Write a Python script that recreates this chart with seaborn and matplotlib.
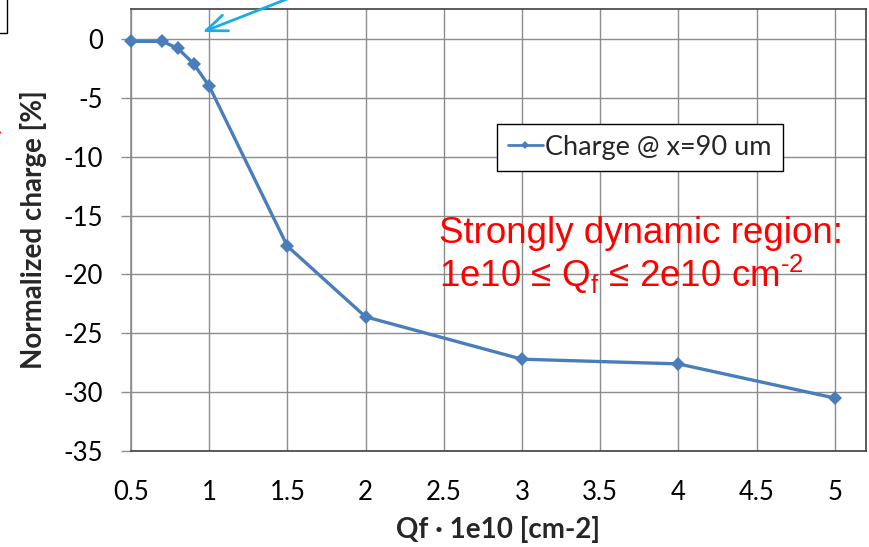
import matplotlib
matplotlib.use("Agg")
import matplotlib.pyplot as plt
import seaborn as sns
import pandas as pd
from matplotlib.patches import FancyArrowPatch, Rectangle
from matplotlib.lines import Line2D

# ---- data ----
qf = [0.5, 0.7, 0.8, 0.9, 1.0, 1.5, 2.0, 3.0, 4.0, 5.0]
charge = [-0.2, -0.2, -0.8, -2.1, -4.0, -17.6, -23.6, -27.2, -27.6, -30.5]
series_name = "Charge @ x=90 um"
x_ticks = [0.5, 1, 1.5, 2, 2.5, 3, 3.5, 4, 4.5, 5]
x_tick_labels = ["0.5", "1", "1.5", "2", "2.5", "3", "3.5", "4", "4.5", "5"]
y_ticks = [0, -5, -10, -15, -20, -25, -30, -35]
x_label = "Qf · 1e10 [cm-2]"
y_label = "Normalized charge [%]"
note_line1 = "Strongly dynamic region:"
note_line2 = r"1e10 ≤ Q$_\mathregular{f}$ ≤ 2e10 cm$^\text{-2}$"

df = pd.DataFrame({"qf": qf, "charge": charge, "series": series_name})

sns.set_theme(style="white")
plt.rcParams["font.family"] = ["Lato", "DejaVu Sans"]
plt.rcParams["axes.unicode_minus"] = False
plt.rcParams["mathtext.fontset"] = "custom"
plt.rcParams["mathtext.rm"] = "Liberation Sans"

W, H = 869, 547
fig = plt.figure(figsize=(W / 100, H / 100), dpi=100)
fig.patch.set_facecolor("white")
ax = fig.add_axes([131 / W, 1 - 451 / H, (866 - 131) / W, (451 - 9) / H])
ax.set_facecolor("white")

line_color = "#4A7EBB"
sns.lineplot(data=df, x="qf", y="charge", hue="series", palette=[line_color],
             marker="D", markersize=7, markeredgewidth=0, linewidth=2.4,
             ax=ax, legend=False, zorder=3, clip_on=False)

ax.set_xlim(0.5, 5.2)
ax.set_ylim(-35, 2.55)
ax.set_xticks(x_ticks)
ax.set_xticklabels(x_tick_labels)
ax.set_yticks(y_ticks)
ax.grid(True, color="#8c8c8c", linewidth=1.0)
ax.tick_params(axis="x", length=0, pad=21, labelsize=18.5, colors="black")
ax.tick_params(axis="y", length=7, width=1, color="#8c8c8c", pad=13,
               labelsize=18.5, left=True, labelcolor="black")
for s in ["top", "right", "bottom"]:
    ax.spines[s].set_color("#404040")
    ax.spines[s].set_linewidth(1.2)
ax.spines["left"].set_color("#8c8c8c")
ax.spines["left"].set_linewidth(1.2)

ax.set_xlabel(x_label, fontsize=20, fontweight="bold", labelpad=8)
ax.set_ylabel(y_label, fontsize=20, fontweight="bold", labelpad=12)

handle = Line2D([], [], color=line_color, marker="D", markersize=4.5,
                linewidth=2.0, markeredgewidth=0)
leg = ax.legend([handle], [series_name], loc="upper left",
                bbox_to_anchor=((497 - 131) / 735, (451 - 124) / 442),
                fontsize=19.5, frameon=True, fancybox=False, handlelength=1.3,
                handletextpad=0.08, borderpad=0.4, borderaxespad=0)
leg.get_frame().set_edgecolor("black")
leg.get_frame().set_linewidth(1.0)
leg.get_frame().set_alpha(1)

red_kw = dict(color="#FF0000", fontsize=26.5, family=["Liberation Sans", "DejaVu Sans"],
              ha="left", va="baseline")
fig.text(439 / W, 1 - 243 / H, note_line1, **red_kw)
fig.text(439 / W, 1 - 287 / H, note_line2, **red_kw)

# ---- cropped slide annotations ----
def fp(x, y):
    return (x / W, 1 - y / H)

arrow = FancyArrowPatch(fp(305, -8), fp(200, 33), transform=fig.transFigure,
                        arrowstyle="->,head_length=15,head_width=6",
                        color="#1AACE8", linewidth=2, mutation_scale=1)
fig.add_artist(arrow)
fig.add_artist(Rectangle(fp(-20, 33), 26.5 / W, 60 / H, transform=fig.transFigure,
                         fill=False, edgecolor="black", linewidth=1.0))
red_arrow = FancyArrowPatch(fp(-14, 124), fp(4, 135), transform=fig.transFigure,
                            arrowstyle="-|>,head_length=6,head_width=3",
                            color="#FF0000", linewidth=1, mutation_scale=1)
fig.add_artist(red_arrow)

fig.savefig("out.png", dpi=100)
